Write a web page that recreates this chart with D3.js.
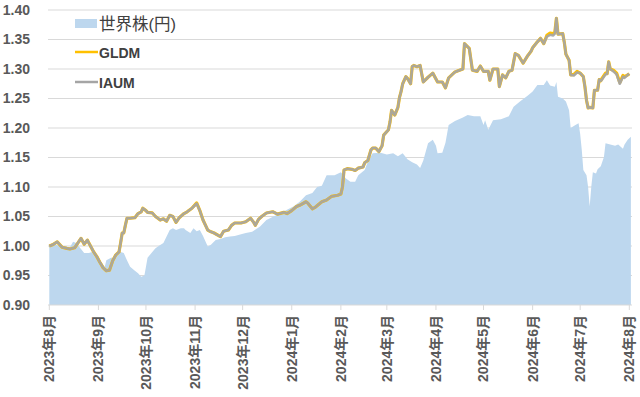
<!DOCTYPE html>
<html><head><meta charset="utf-8">
<script src="https://cdn.jsdelivr.net/npm/d3@7"></script>
<style>
html,body{margin:0;padding:0;background:#fff;}
svg{display:block;font-family:"Liberation Sans","Noto Sans CJK JP",sans-serif;}
</style></head>
<body><svg id="c" width="640" height="397"></svg>
<script>
// ---- data ----
const seriesNames = ["世界株(円)", "GLDM", "IAUM"];
const yTicks = [0.90, 0.95, 1.00, 1.05, 1.10, 1.15, 1.20, 1.25, 1.30, 1.35, 1.40];

const goldDates = ["2023-08-01","2023-08-03","2023-08-06","2023-08-09","2023-08-12","2023-08-14","2023-08-17","2023-08-19","2023-08-21","2023-08-23","2023-08-25","2023-08-26","2023-08-29","2023-08-31","2023-09-02","2023-09-04","2023-09-06","2023-09-08","2023-09-10","2023-09-12","2023-09-14","2023-09-15","2023-09-16","2023-09-17","2023-09-18","2023-09-19","2023-09-21","2023-09-24","2023-09-26","2023-09-28","2023-09-29","2023-10-01","2023-10-02","2023-10-05","2023-10-07","2023-10-10","2023-10-12","2023-10-14","2023-10-16","2023-10-18","2023-10-20","2023-10-22","2023-10-25","2023-10-27","2023-10-30","2023-11-02","2023-11-04","2023-11-06","2023-11-09","2023-11-11","2023-11-13","2023-11-17","2023-11-19","2023-11-22","2023-11-24","2023-11-26","2023-11-30","2023-12-03","2023-12-06","2023-12-08","2023-12-09","2023-12-11","2023-12-13","2023-12-16","2023-12-20","2023-12-23","2023-12-27","2023-12-29","2024-01-01","2024-01-04","2024-01-06","2024-01-10","2024-01-11","2024-01-14","2024-01-16","2024-01-20","2024-01-23","2024-01-26","2024-01-30","2024-02-01","2024-02-02","2024-02-03","2024-02-05","2024-02-08","2024-02-10","2024-02-12","2024-02-15","2024-02-16","2024-02-18","2024-02-20","2024-02-21","2024-02-23","2024-02-25","2024-02-27","2024-02-28","2024-03-02","2024-03-03","2024-03-04","2024-03-06","2024-03-08","2024-03-09","2024-03-10","2024-03-11","2024-03-13","2024-03-14","2024-03-16","2024-03-17","2024-03-18","2024-03-20","2024-03-22","2024-03-24","2024-03-27","2024-03-30","2024-04-02","2024-04-05","2024-04-07","2024-04-09","2024-04-11","2024-04-13","2024-04-15","2024-04-18","2024-04-19","2024-04-22","2024-04-24","2024-04-27","2024-04-29","2024-05-01","2024-05-04","2024-05-05","2024-05-07","2024-05-10","2024-05-11","2024-05-13","2024-05-15","2024-05-17","2024-05-19","2024-05-21","2024-05-23","2024-05-26","2024-05-29","2024-05-31","2024-06-01","2024-06-04","2024-06-06","2024-06-08","2024-06-10","2024-06-12","2024-06-14","2024-06-15","2024-06-16","2024-06-17","2024-06-20","2024-06-21","2024-06-22","2024-06-24","2024-06-25","2024-06-27","2024-06-29","2024-07-01","2024-07-03","2024-07-04","2024-07-05","2024-07-06","2024-07-07","2024-07-09","2024-07-10","2024-07-12","2024-07-13","2024-07-14","2024-07-15","2024-07-17","2024-07-18","2024-07-19","2024-07-20","2024-07-22","2024-07-24","2024-07-26","2024-07-28","2024-07-29","2024-07-31","2024-08-01"];

const gldmValues = [1.000,1.002,1.007,0.998,0.996,0.995,0.997,1.005,1.013,1.003,1.010,1.005,0.990,0.982,0.972,0.963,0.958,0.959,0.975,0.985,0.990,1.005,1.022,1.022,1.035,1.047,1.047,1.048,1.055,1.058,1.064,1.060,1.057,1.056,1.050,1.044,1.046,1.042,1.052,1.050,1.040,1.048,1.055,1.058,1.064,1.073,1.060,1.044,1.027,1.024,1.022,1.016,1.025,1.027,1.035,1.039,1.039,1.041,1.047,1.040,1.035,1.045,1.050,1.056,1.058,1.054,1.057,1.055,1.060,1.067,1.069,1.075,1.073,1.063,1.066,1.075,1.078,1.084,1.086,1.088,1.100,1.129,1.131,1.130,1.128,1.132,1.134,1.141,1.145,1.163,1.166,1.166,1.160,1.170,1.188,1.197,1.210,1.230,1.222,1.235,1.252,1.262,1.275,1.287,1.284,1.275,1.304,1.306,1.304,1.306,1.278,1.286,1.293,1.278,1.278,1.268,1.285,1.290,1.295,1.297,1.300,1.343,1.335,1.298,1.296,1.305,1.296,1.296,1.281,1.300,1.300,1.270,1.290,1.285,1.296,1.298,1.326,1.323,1.310,1.323,1.330,1.336,1.346,1.352,1.343,1.357,1.361,1.360,1.362,1.386,1.359,1.360,1.345,1.325,1.315,1.290,1.291,1.296,1.293,1.287,1.270,1.247,1.234,1.235,1.234,1.264,1.264,1.282,1.280,1.285,1.293,1.292,1.312,1.300,1.298,1.293,1.277,1.289,1.287,1.290,1.292];

const iaumValues = [1.000,1.002,1.007,0.998,0.996,0.995,0.997,1.005,1.013,1.003,1.010,1.005,0.990,0.982,0.972,0.963,0.958,0.959,0.975,0.985,0.990,1.005,1.022,1.022,1.035,1.047,1.047,1.048,1.055,1.058,1.064,1.060,1.057,1.056,1.050,1.044,1.046,1.042,1.052,1.050,1.040,1.048,1.055,1.058,1.064,1.072,1.060,1.044,1.027,1.024,1.022,1.016,1.025,1.027,1.035,1.039,1.039,1.041,1.047,1.040,1.035,1.045,1.050,1.056,1.058,1.054,1.057,1.055,1.060,1.067,1.069,1.075,1.073,1.063,1.066,1.075,1.078,1.084,1.086,1.088,1.100,1.129,1.131,1.130,1.128,1.132,1.134,1.141,1.145,1.163,1.166,1.166,1.160,1.170,1.188,1.197,1.210,1.230,1.222,1.235,1.252,1.262,1.275,1.287,1.284,1.275,1.304,1.306,1.304,1.306,1.278,1.286,1.293,1.278,1.278,1.268,1.285,1.290,1.295,1.297,1.300,1.343,1.335,1.298,1.296,1.305,1.296,1.296,1.281,1.300,1.300,1.270,1.290,1.285,1.296,1.298,1.326,1.323,1.310,1.323,1.330,1.336,1.346,1.352,1.343,1.355,1.358,1.357,1.360,1.386,1.359,1.360,1.345,1.325,1.315,1.290,1.289,1.294,1.293,1.287,1.270,1.247,1.234,1.235,1.234,1.264,1.264,1.282,1.280,1.283,1.291,1.292,1.312,1.300,1.296,1.291,1.275,1.287,1.285,1.290,1.292];

const worldDates = ["2023-08-01","2023-08-05","2023-08-08","2023-08-11","2023-08-14","2023-08-16","2023-08-18","2023-08-21","2023-08-23","2023-08-26","2023-08-28","2023-08-30","2023-09-01","2023-09-03","2023-09-05","2023-09-06","2023-09-09","2023-09-10","2023-09-13","2023-09-15","2023-09-17","2023-09-19","2023-09-21","2023-09-24","2023-09-26","2023-09-28","2023-09-30","2023-10-01","2023-10-02","2023-10-05","2023-10-07","2023-10-09","2023-10-12","2023-10-14","2023-10-16","2023-10-18","2023-10-20","2023-10-23","2023-10-25","2023-10-26","2023-10-29","2023-10-31","2023-11-02","2023-11-04","2023-11-06","2023-11-09","2023-11-11","2023-11-14","2023-11-17","2023-11-20","2023-11-23","2023-11-26","2023-11-30","2023-12-03","2023-12-07","2023-12-12","2023-12-16","2023-12-22","2023-12-25","2024-01-02","2024-01-06","2024-01-10","2024-01-14","2024-01-17","2024-01-20","2024-01-23","2024-01-28","2024-02-01","2024-02-04","2024-02-07","2024-02-10","2024-02-12","2024-02-16","2024-02-18","2024-02-21","2024-02-26","2024-03-01","2024-03-05","2024-03-08","2024-03-11","2024-03-14","2024-03-17","2024-03-20","2024-03-22","2024-03-24","2024-03-27","2024-03-30","2024-04-01","2024-04-02","2024-04-05","2024-04-07","2024-04-09","2024-04-13","2024-04-18","2024-04-21","2024-04-25","2024-04-29","2024-05-01","2024-05-02","2024-05-04","2024-05-07","2024-05-12","2024-05-17","2024-05-20","2024-05-24","2024-05-29","2024-06-01","2024-06-04","2024-06-08","2024-06-10","2024-06-12","2024-06-15","2024-06-16","2024-06-17","2024-06-20","2024-06-22","2024-06-24","2024-06-25","2024-06-28","2024-06-30","2024-07-01","2024-07-02","2024-07-03","2024-07-05","2024-07-06","2024-07-07","2024-07-08","2024-07-09","2024-07-11","2024-07-12","2024-07-14","2024-07-16","2024-07-17","2024-07-20","2024-07-23","2024-07-25","2024-07-28","2024-07-29","2024-07-31","2024-08-02"];

const worldValues = [1.000,1.002,1.000,0.999,0.998,1.007,1.005,0.995,0.988,0.988,0.990,0.985,0.980,0.972,0.965,0.976,0.980,0.980,0.990,0.990,0.988,0.976,0.965,0.958,0.954,0.948,0.950,0.965,0.980,0.990,0.996,1.000,1.005,1.016,1.027,1.030,1.027,1.030,1.030,1.027,1.022,1.030,1.025,1.027,1.017,0.999,1.002,1.010,1.012,1.015,1.016,1.017,1.020,1.022,1.024,1.033,1.044,1.052,1.056,1.067,1.075,1.086,1.090,1.100,1.102,1.120,1.120,1.125,1.115,1.109,1.109,1.120,1.129,1.143,1.157,1.158,1.155,1.157,1.152,1.157,1.147,1.142,1.138,1.132,1.145,1.174,1.180,1.170,1.157,1.158,1.175,1.205,1.212,1.218,1.222,1.220,1.220,1.205,1.213,1.197,1.213,1.215,1.220,1.236,1.245,1.255,1.262,1.273,1.273,1.281,1.272,1.270,1.278,1.253,1.250,1.245,1.230,1.200,1.205,1.208,1.190,1.163,1.129,1.120,1.100,1.067,1.100,1.125,1.123,1.130,1.135,1.151,1.174,1.172,1.170,1.172,1.165,1.172,1.180,1.185];

// ---- drawing ----
const parse = d3.timeParse("%Y-%m-%d");
const gold = goldDates.map((d, i) => ({date: parse(d), gldm: gldmValues[i], iaum: iaumValues[i]}));
const world = worldDates.map((d, i) => ({date: parse(d), v: worldValues[i]}));

const svg = d3.select("#c");
const x = d3.scaleTime().domain([parse("2023-08-01"), parse("2024-08-01")]).range([49.3, 629.3]);
const y = d3.scaleLinear().domain([0.90, 1.40]).range([305, 10]);
const left = 48, right = 632;

// gridlines
svg.append("g").selectAll("line").data(yTicks.slice(1)).join("line")
  .attr("x1", left).attr("x2", right)
  .attr("y1", d => y(d)).attr("y2", d => y(d))
  .attr("stroke", "#d9d9d9").attr("stroke-width", 1);

// area
const area = d3.area().x(d => x(d.date)).y0(y(0.90)).y1(d => y(d.v));
svg.append("path").datum(world).attr("d", area).attr("fill", "#bdd7ee");

// baseline & ticks
svg.append("line").attr("x1", left).attr("x2", right).attr("y1", y(0.9)).attr("y2", y(0.9))
  .attr("stroke", "#d9d9d9").attr("stroke-width", 1);
const months = d3.timeMonth.range(parse("2023-08-01"), d3.timeDay.offset(parse("2024-08-01"), 1));
svg.append("g").selectAll("line").data(months).join("line")
  .attr("x1", d => x(d)).attr("x2", d => x(d))
  .attr("y1", y(0.9)).attr("y2", y(0.9) + 5)
  .attr("stroke", "#d9d9d9");
svg.append("g").selectAll("text").data(months).join("text")
  .attr("transform", d => `translate(${x(d)},315) rotate(-90)`)
  .attr("text-anchor", "end").attr("dy", "0.35em")
  .attr("font-size", 14).attr("font-weight", "bold").attr("fill", "#595959")
  .text(d => `${d.getFullYear()}年${d.getMonth() + 1}月`);

// y labels
svg.append("g").selectAll("text").data(yTicks).join("text")
  .attr("x", 30).attr("y", d => y(d)).attr("dy", "0.35em")
  .attr("text-anchor", "end").attr("font-size", 14).attr("font-weight", "bold")
  .attr("fill", "#595959").text(d => d.toFixed(2));

// lines
const lineG = d3.line().x(d => x(d.date)).y(d => y(d.gldm));
const lineI = d3.line().x(d => x(d.date)).y(d => y(d.iaum));
svg.append("path").datum(gold).attr("d", lineG).attr("fill", "none")
  .attr("stroke", "#ffc000").attr("stroke-width", 3.2).attr("stroke-linejoin", "round");
svg.append("path").datum(gold).attr("d", lineI).attr("fill", "none")
  .attr("stroke", "#a5a5a5").attr("stroke-width", 2.6).attr("stroke-linejoin", "round").attr("opacity", 0.92);

// legend
const lg = svg.append("g");
lg.append("rect").attr("x", 75).attr("y", 19).attr("width", 22).attr("height", 9).attr("fill", "#bdd7ee");
lg.append("text").attr("x", 99).attr("y", 24).attr("dy", "0.35em").attr("font-size", 16.5)
  .attr("fill", "#404040").text(seriesNames[0]);
lg.append("line").attr("x1", 75).attr("x2", 98).attr("y1", 52).attr("y2", 52)
  .attr("stroke", "#ffc000").attr("stroke-width", 2.5);
lg.append("text").attr("x", 99).attr("y", 53).attr("dy", "0.35em").attr("font-size", 14)
  .attr("font-weight", "bold").attr("fill", "#404040").text(seriesNames[1]);
lg.append("line").attr("x1", 75).attr("x2", 98).attr("y1", 82).attr("y2", 82)
  .attr("stroke", "#a5a5a5").attr("stroke-width", 2.5);
lg.append("text").attr("x", 99).attr("y", 83).attr("dy", "0.35em").attr("font-size", 14)
  .attr("font-weight", "bold").attr("fill", "#404040").text(seriesNames[2]);
</script></body></html>
